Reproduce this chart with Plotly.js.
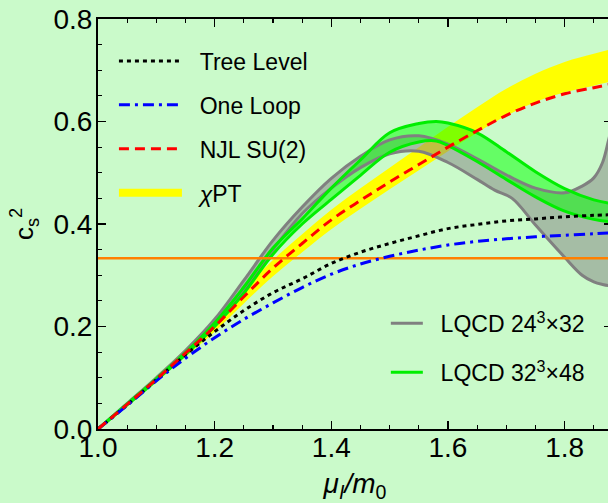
<!DOCTYPE html>
<html>
<head>
<meta charset="utf-8">
<script src="https://cdn.plot.ly/plotly-3.0.1.min.js"></script>
<style>
  html, body { margin: 0; padding: 0; overflow: hidden; background: rgb(202,250,202); }
  #chart { width: 612px; height: 503px; }
</style>
</head>
<body>
<div id="chart"></div>
<script>
// ---- data ----
const mu = [1.0, 1.05, 1.1, 1.15, 1.2, 1.25, 1.3, 1.35, 1.4, 1.45, 1.5, 1.55, 1.6, 1.65, 1.7, 1.75, 1.8, 1.85, 1.88];
const treeLevel = [0, 0.047, 0.096, 0.145, 0.19, 0.231, 0.266, 0.293, 0.323, 0.345, 0.362, 0.377, 0.391, 0.399, 0.406, 0.41, 0.414, 0.417, 0.418];
const oneLoop   = [0, 0.046, 0.094, 0.138, 0.178, 0.214, 0.246, 0.276, 0.302, 0.322, 0.337, 0.349, 0.359, 0.366, 0.371, 0.375, 0.378, 0.381, 0.383];
const njlSU2    = [0, 0.048, 0.097, 0.148, 0.2, 0.258, 0.314, 0.362, 0.408, 0.446, 0.482, 0.516, 0.55, 0.582, 0.612, 0.636, 0.654, 0.666, 0.673];
const chptLower = [0, 0.046, 0.093, 0.141, 0.19, 0.245, 0.298, 0.345, 0.39, 0.43, 0.468, 0.505, 0.542, 0.578, 0.611, 0.638, 0.657, 0.67, 0.678];
const chptUpper = [0, 0.051, 0.103, 0.156, 0.21, 0.272, 0.33, 0.38, 0.428, 0.47, 0.51, 0.55, 0.59, 0.628, 0.664, 0.693, 0.716, 0.732, 0.741];

const muL24 = [1.0, 1.05, 1.1, 1.15, 1.2, 1.25, 1.3, 1.35, 1.4, 1.45, 1.5, 1.55, 1.6, 1.65, 1.68, 1.71, 1.75, 1.8, 1.83, 1.85, 1.865, 1.875, 1.88];
const l24Upper = [0, 0.05, 0.1, 0.153, 0.214, 0.29, 0.368, 0.433, 0.489, 0.532, 0.564, 0.572, 0.556, 0.527, 0.508, 0.49, 0.47, 0.461, 0.474, 0.49, 0.52, 0.562, 0.585];
const l24Lower = [0, 0.048, 0.097, 0.148, 0.206, 0.272, 0.35, 0.42, 0.47, 0.51, 0.537, 0.542, 0.52, 0.487, 0.466, 0.45, 0.398, 0.335, 0.3, 0.287, 0.282, 0.28, 0.28];

const muL32 = [1.0, 1.05, 1.1, 1.15, 1.2, 1.25, 1.3, 1.35, 1.4, 1.45, 1.5, 1.55, 1.58, 1.6, 1.65, 1.7, 1.75, 1.8, 1.85, 1.88];
const l32Upper = [0, 0.049, 0.098, 0.149, 0.207, 0.277, 0.353, 0.41, 0.47, 0.525, 0.578, 0.596, 0.6, 0.597, 0.578, 0.541, 0.502, 0.469, 0.447, 0.44];
const l32Lower = [0, 0.047, 0.095, 0.145, 0.2, 0.265, 0.341, 0.4, 0.448, 0.495, 0.54, 0.56, 0.562, 0.553, 0.522, 0.487, 0.453, 0.425, 0.409, 0.404];

const conformalLimit = 1 / 3;

const legendLabels = {
  tree: 'Tree Level', loop: 'One Loop', njl: 'NJL SU(2)', chpt: '<i>χ</i>PT',
  l24: 'LQCD 24<sup>3</sup>×32', l32: 'LQCD 32<sup>3</sup>×48'
};
const pad = '\u00a0\u00a0';

// ---- styles ----
const BG = 'rgb(202,250,202)';
const FONT = 'Liberation Sans, Arial, Helvetica, sans-serif';
const GRAY = 'rgb(128,128,128)';
const GREEN = 'rgb(0,238,0)';

const traces = [
  // chiPT band
  {x: mu, y: chptLower, mode: 'lines', line: {width: 0, shape: 'spline'}, showlegend: false, hoverinfo: 'skip'},
  {x: mu, y: chptUpper, mode: 'lines', fill: 'tonexty', fillcolor: 'rgb(255,255,0)', line: {width: 0, shape: 'spline'}, showlegend: false, hoverinfo: 'skip'},
  // LQCD 24 band fill
  {x: muL24, y: l24Lower, mode: 'lines', line: {width: 0, shape: 'spline'}, showlegend: false},
  {x: muL24, y: l24Upper, mode: 'lines', fill: 'tonexty', fillcolor: 'rgba(128,128,128,0.5)', line: {width: 0, shape: 'spline'}, showlegend: false},
  // LQCD 32 band fill
  {x: muL32, y: l32Lower, mode: 'lines', line: {width: 0, shape: 'spline'}, showlegend: false},
  {x: muL32, y: l32Upper, mode: 'lines', fill: 'tonexty', fillcolor: 'rgba(0,255,0,0.5)', line: {width: 0, shape: 'spline'}, showlegend: false},
  // band edges
  {x: muL24, y: l24Lower, mode: 'lines', line: {color: GRAY, width: 3, shape: 'spline'}, showlegend: false},
  {x: muL24, y: l24Upper, mode: 'lines', line: {color: GRAY, width: 3, shape: 'spline'}, name: pad + legendLabels.l24, legend: 'legend2', legendgroup: 'a', legendrank: 1},
  {x: muL32, y: l32Lower, mode: 'lines', line: {color: GREEN, width: 3, shape: 'spline'}, showlegend: false},
  {x: muL32, y: l32Upper, mode: 'lines', line: {color: GREEN, width: 3, shape: 'spline'}, name: pad + legendLabels.l32, legend: 'legend2', legendgroup: 'b', legendrank: 2},
  // conformal limit
  {x: [mu[0], mu[mu.length - 1]], y: [conformalLimit, conformalLimit], mode: 'lines', line: {color: 'rgb(255,128,0)', width: 2.5}, showlegend: false},
  // model curves
  {x: mu, y: treeLevel, mode: 'lines', line: {color: 'black', width: 3, dash: '4px,4px', shape: 'spline'}, name: pad + legendLabels.tree, legendgroup: 'g1', legendrank: 1},
  {x: mu, y: oneLoop, mode: 'lines', line: {color: 'rgb(0,0,255)', width: 3, dash: '11px,5px,3px,5px', shape: 'spline'}, name: pad + legendLabels.loop, legendgroup: 'g2', legendrank: 2},
  {x: mu, y: njlSU2, mode: 'lines', line: {color: 'rgb(255,0,0)', width: 3, dash: '10px,6px', shape: 'spline'}, name: pad + legendLabels.njl, legendgroup: 'g3', legendrank: 3},
  {x: [null], y: [null], mode: 'lines', line: {color: 'rgb(255,255,0)', width: 8}, name: pad + legendLabels.chpt, legendgroup: 'g4', legendrank: 4}
];

const axisCommon = {
  showgrid: false, zeroline: false, showline: true, linecolor: 'black', linewidth: 2,
  mirror: 'ticks', ticks: 'inside', ticklen: 8, tickwidth: 1.5, tickcolor: 'black',
  tickfont: {family: FONT, size: 28, color: 'black'},
  minor: {ticks: 'inside', ticklen: 4, tickwidth: 1.2, tickcolor: 'black', showgrid: false}
};

const layout = {
  width: 612, height: 503,
  margin: {l: 98, r: 0, t: 19, b: 74},
  paper_bgcolor: BG, plot_bgcolor: BG,
  font: {family: FONT, color: 'black'},
  showlegend: true,
  xaxis: Object.assign({}, axisCommon, {
    range: [1.0, 1.8812], tick0: 1.0, dtick: 0.2, tickformat: '.1f',
    ticklabelstandoff: -8,
    minor: Object.assign({}, axisCommon.minor, {dtick: 0.05}),
    title: {text: '<i>μ</i><sub><i>I</i></sub><i>/m</i><sub>0</sub>', font: {family: FONT, size: 28}, standoff: 18}
  }),
  yaxis: Object.assign({}, axisCommon, {
    range: [0, 0.8], tick0: 0, dtick: 0.2, tickformat: '.1f',
    ticklabelstandoff: -2,
    minor: Object.assign({}, axisCommon.minor, {dtick: 0.05}),
    title: {text: 'c<sub>s</sub><sup>2</sup>', font: {family: FONT, size: 26}, standoff: 12}
  }),
  legend: {
    x: 0.031, y: 0.95, xanchor: 'left', yanchor: 'top',
    bgcolor: 'rgba(0,0,0,0)', borderwidth: 0,
    font: {family: FONT, size: 23, color: 'black'},
    itemwidth: 63, tracegroupgap: 11, traceorder: 'grouped'
  },
  legend2: {
    x: 0.56, y: 0.31, xanchor: 'left', yanchor: 'top',
    bgcolor: 'rgba(0,0,0,0)', borderwidth: 0,
    font: {family: FONT, size: 23, color: 'black'},
    itemwidth: 32, tracegroupgap: 16, traceorder: 'grouped'
  }
};

Plotly.newPlot('chart', traces, layout, {displayModeBar: false, staticPlot: true});
</script>
</body>
</html>
